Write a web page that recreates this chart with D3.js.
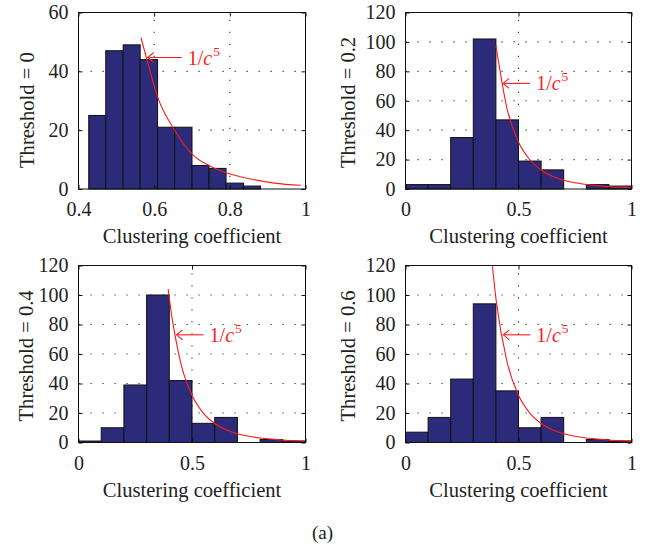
<!DOCTYPE html>
<html>
<head>
<meta charset="utf-8">
<script src="https://cdn.jsdelivr.net/npm/d3@7"></script>
<style>
  html, body { margin: 0; padding: 0; background: #fff; }
  svg { display: block; }
  text { font-family: "Liberation Serif", "DejaVu Serif", serif; fill: #222; }
</style>
</head>
<body>
<svg id="fig" width="645" height="550"></svg>
<script>
// ---- data -------------------------------------------------------------
const thresholds = ["0", "0.2", "0.4", "0.6"];

// histogram bin edges
const edgesT0 = [0.427, 0.472, 0.518, 0.563, 0.609, 0.654, 0.700, 0.745, 0.790, 0.836, 0.881];
const edgesTenths = [0, 0.1, 0.2, 0.3, 0.4, 0.5, 0.6, 0.7, 0.8, 0.9, 1.0];

// histogram counts per threshold
const countsT0  = [25, 47, 49, 44, 21, 21, 8, 7, 2, 1];
const countsT02 = [3, 3, 35, 102, 47, 19, 13, 0, 3, 2];
const countsT04 = [1, 10, 39, 100, 42, 13, 17, 0, 2, 1];
const countsT06 = [7, 17, 43, 94, 35, 10, 17, 0, 2, 1];

// 1/c^5 reference curve samples (c, value)
const curveCT0 = [0.565, 0.580, 0.609, 0.654, 0.703, 0.751, 0.790, 0.856, 0.918, 0.988];
const curveVT0 = [51.5, 44.4, 31.3, 20.0, 11.5, 7.6, 5.5, 3.4, 2.0, 1.25];
const curveC   = [0.40, 0.45, 0.50, 0.55, 0.60, 0.65, 0.70, 0.75, 0.80, 0.85, 0.90, 0.95, 1.00];
const curveV   = [97.7, 54.2, 32.0, 19.9, 12.9, 8.6, 5.9, 4.2, 3.1, 2.3, 1.7, 1.3, 1.0];
const curveCT04 = [0.395].concat(curveC);
const curveVT04 = [104].concat(curveV);
const curveCT06 = [0.375].concat(curveC);
const curveVT06 = [135].concat(curveV);

// axis ticks
const xTicksT0 = [0.4, 0.6, 0.8, 1];
const yTicksT0 = [0, 20, 40, 60];
const xTicks = [0, 0.5, 1];
const yTicks = [0, 20, 40, 60, 80, 100, 120];

const xLabel = "Clustering coefficient";
const caption = "(a)";

// ---- panel setup ------------------------------------------------------
const panels = [
  { thr: thresholds[0], edges: edgesT0, counts: countsT0, cc: curveCT0, cv: curveVT0,
    xDom: [0.4, 1], yDom: [0, 60], xt: xTicksT0, yt: yTicksT0,
    box: { l: 78.5, t: 12.5, w: 227, h: 176.5 }, ylabDx: -45,
    note: { c: 0.583, v: 44.7, len: 34 } },
  { thr: thresholds[1], edges: edgesTenths, counts: countsT02, cc: curveC, cv: curveV,
    xDom: [0, 1], yDom: [0, 120], xt: xTicks, yt: yTicks,
    box: { l: 405.5, t: 12.5, w: 226, h: 176.5 }, ylabDx: -51,
    note: { c: 0.432, v: 71.8, len: 27 } },
  { thr: thresholds[2], edges: edgesTenths, counts: countsT04, cc: curveCT04, cv: curveVT04,
    xDom: [0, 1], yDom: [0, 120], xt: xTicks, yt: yTicks,
    box: { l: 78.5, t: 265.5, w: 227, h: 177 }, ylabDx: -46,
    note: { c: 0.432, v: 73, len: 27 } },
  { thr: thresholds[3], edges: edgesTenths, counts: countsT06, cc: curveCT06, cv: curveVT06,
    xDom: [0, 1], yDom: [0, 120], xt: xTicks, yt: yTicks,
    box: { l: 405.5, t: 265.5, w: 226, h: 177 }, ylabDx: -51,
    note: { c: 0.433, v: 73, len: 27 } }
];

const svg = d3.select("#fig");
const BAR = "#2b2b79";
const RED = "#ff1a1a";
const FS = 20;     // tick labels
const LFS = 20.6;  // axis labels

panels.forEach((p, i) => {
  const b = p.box;
  const x = d3.scaleLinear().domain(p.xDom).range([0, b.w]);
  const y = d3.scaleLinear().domain(p.yDom).range([b.h, 0]);
  const g = svg.append("g").attr("transform", `translate(${b.l},${b.t})`);

  g.append("clipPath").attr("id", "clip" + i)
    .append("rect").attr("width", b.w).attr("height", b.h);

  // dotted grid at interior ticks (vertical lines run bottom-up)
  const inner = (arr, dom) => arr.filter(v => v > dom[0] && v < dom[1]);
  g.selectAll(".gx").data(inner(p.xt, p.xDom)).join("line")
    .attr("x1", d => x(d)).attr("x2", d => x(d))
    .attr("y1", b.h).attr("y2", 0)
    .attr("stroke", "#333").attr("stroke-width", 1.1)
    .attr("stroke-dasharray", "1.2,10.8");
  g.selectAll(".gy").data(inner(p.yt, p.yDom)).join("line")
    .attr("y1", d => y(d)).attr("y2", d => y(d))
    .attr("x1", 0).attr("x2", b.w)
    .attr("stroke", "#333").attr("stroke-width", 1.1)
    .attr("stroke-dasharray", "1.2,10.8");

  // histogram bars
  const bins = p.counts.map((v, k) => ({ x0: p.edges[k], x1: p.edges[k + 1], v }));
  g.selectAll(".bar").data(bins.filter(d => d.v > 0)).join("rect")
    .attr("x", d => x(d.x0)).attr("width", d => x(d.x1) - x(d.x0))
    .attr("y", d => y(d.v)).attr("height", d => y(0) - y(d.v))
    .attr("fill", BAR).attr("stroke", "#111").attr("stroke-width", 1);

  // 1/c^5 curve
  const pts = p.cc.map((c, k) => [c, p.cv[k]]);
  g.append("path").datum(pts)
    .attr("clip-path", `url(#clip${i})`)
    .attr("fill", "none").attr("stroke", RED).attr("stroke-width", 1.1)
    .attr("d", d3.line().x(d => x(d[0])).y(d => y(d[1])).curve(d3.curveMonotoneX));

  // axes box with inward ticks
  const xAxisB = d3.axisBottom(x).tickValues(p.xt).tickSize(-4).tickPadding(9).tickFormat(d3.format("~g"));
  const xAxisT = d3.axisTop(x).tickValues(p.xt).tickSize(-4).tickFormat("");
  const yAxisL = d3.axisLeft(y).tickValues(p.yt).tickSize(-4).tickPadding(10).tickFormat(d3.format("~g"));
  const yAxisR = d3.axisRight(y).tickValues(p.yt).tickSize(-4).tickFormat("");
  const ax = [
    g.append("g").attr("transform", `translate(0,${b.h})`).call(xAxisB),
    g.append("g").call(xAxisT),
    g.append("g").call(yAxisL),
    g.append("g").attr("transform", `translate(${b.w},0)`).call(yAxisR)
  ];
  ax.forEach(a => {
    a.select(".domain").remove();
    a.selectAll(".tick line").attr("stroke", "#111").attr("stroke-width", 1);
    a.selectAll("text").attr("font-size", FS).attr("fill", "#222")
      .style("font-family", '"Liberation Serif", serif');
  });
  ax[0].selectAll("text").attr("dy", "0.9em");
  g.append("rect").attr("width", b.w).attr("height", b.h)
    .attr("fill", "none").attr("stroke", "#111").attr("stroke-width", 1);

  // axis labels
  g.append("text").attr("x", b.w / 2).attr("y", b.h + 54)
    .attr("text-anchor", "middle").attr("font-size", LFS).text(xLabel);
  g.append("text")
    .attr("transform", `translate(${p.ylabDx},${b.h - 21}) rotate(-90)`)
    .attr("text-anchor", "start").attr("font-size", LFS)
    .text("Threshold = " + p.thr);

  // arrow annotation
  const tx = x(p.note.c), ty = y(p.note.v);
  const ann = g.append("g").attr("stroke", RED).attr("stroke-width", 1.1).attr("fill", "none");
  ann.append("line").attr("x1", tx).attr("y1", ty).attr("x2", tx + p.note.len).attr("y2", ty);
  ann.append("path").attr("d", `M${tx + 6},${ty - 5}L${tx},${ty}L${tx + 6},${ty + 5}`);
  const t = g.append("text").attr("x", tx + p.note.len + 6).attr("y", ty + 7)
    .attr("font-size", FS).style("fill", RED);
  t.append("tspan").text("1/");
  t.append("tspan").attr("font-style", "italic").text("c");
  t.append("tspan").attr("font-size", 13.5).attr("dy", -9).attr("dx", 1).text("5");
});

svg.append("text").attr("x", 322.5).attr("y", 539)
  .attr("text-anchor", "middle").attr("font-size", 19).text(caption);
</script>
</body>
</html>
